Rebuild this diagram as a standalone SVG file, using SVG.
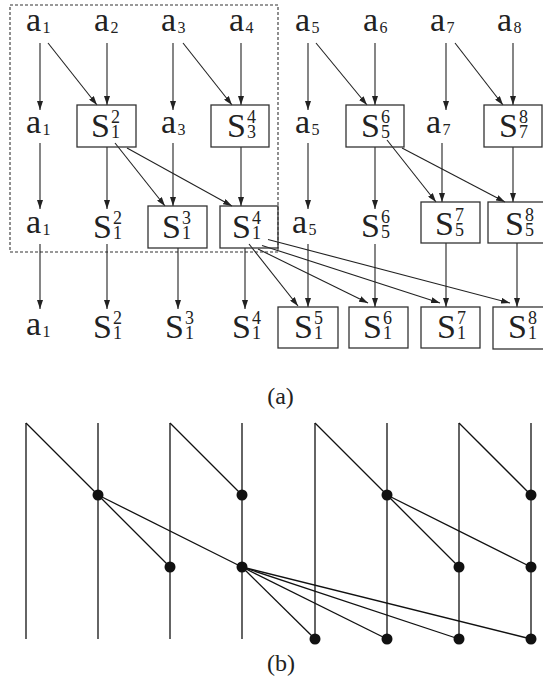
<svg xmlns="http://www.w3.org/2000/svg" width="543" height="679" viewBox="0 0 543 679">
<style>
text{font-family:'Liberation Serif','Times New Roman',Times,'Nimbus Roman',serif}
.m{font-size:34px;fill:#222}
.ds{font-size:16px}
.dS{font-size:18px}
.lb{font-size:24px;fill:#222;text-anchor:middle}
.ln{stroke:#222;stroke-width:1.1;fill:none}
.ar{marker-end:url(#ah)}
.box{fill:none;stroke:#333;stroke-width:1.3}
.dash{fill:none;stroke:#333;stroke-width:1.1;stroke-dasharray:3 2}
.bl{stroke:#111;stroke-width:1.3;fill:none}
.dot{fill:#111}
</style>
<defs>
<marker id="ah" markerUnits="userSpaceOnUse" markerWidth="9" markerHeight="6" refX="9" refY="3" orient="auto">
<path d="M0,0 L9,3 L0,6 z" fill="#222"/>
</marker>
</defs>
<rect class="dash" x="10" y="5" width="268" height="247"/>
<g id="connectors">
<line class="ln ar" x1="40" y1="43" x2="40" y2="110"/>
<line class="ln ar" x1="48" y1="43" x2="97" y2="105"/>
<line class="ln ar" x1="107" y1="43" x2="107" y2="105"/>
<line class="ln ar" x1="173" y1="43" x2="173" y2="110"/>
<line class="ln ar" x1="183" y1="43" x2="232" y2="105"/>
<line class="ln ar" x1="241" y1="43" x2="241" y2="105"/>
<line class="ln ar" x1="308" y1="43" x2="308" y2="110"/>
<line class="ln ar" x1="316" y1="43" x2="367" y2="105"/>
<line class="ln ar" x1="375" y1="43" x2="375" y2="105"/>
<line class="ln ar" x1="446" y1="43" x2="446" y2="110"/>
<line class="ln ar" x1="455" y1="43" x2="503" y2="105"/>
<line class="ln ar" x1="513" y1="43" x2="513" y2="105"/>
<line class="ln ar" x1="40" y1="143" x2="40" y2="209"/>
<line class="ln ar" x1="107" y1="147" x2="107" y2="209"/>
<line class="ln ar" x1="115" y1="143" x2="165" y2="206"/>
<line class="ln ar" x1="127" y1="148" x2="232" y2="206"/>
<line class="ln ar" x1="173" y1="143" x2="173" y2="206"/>
<line class="ln ar" x1="241" y1="147" x2="241" y2="206"/>
<line class="ln ar" x1="308" y1="143" x2="308" y2="209"/>
<line class="ln ar" x1="375" y1="147" x2="375" y2="209"/>
<line class="ln ar" x1="387" y1="140" x2="436" y2="202"/>
<line class="ln ar" x1="402" y1="148" x2="505" y2="202"/>
<line class="ln ar" x1="442" y1="143" x2="442" y2="202"/>
<line class="ln ar" x1="513" y1="147" x2="513" y2="202"/>
<line class="ln ar" x1="40" y1="244" x2="40" y2="309"/>
<line class="ln ar" x1="107" y1="244" x2="107" y2="309"/>
<line class="ln ar" x1="178" y1="248" x2="178" y2="309"/>
<line class="ln ar" x1="245" y1="248" x2="245" y2="309"/>
<line class="ln ar" x1="249" y1="244" x2="298" y2="306"/>
<line class="ln ar" x1="258" y1="249" x2="368" y2="303"/>
<line class="ln ar" x1="262" y1="245.4" x2="440" y2="303"/>
<line class="ln ar" x1="268" y1="239.5" x2="510" y2="303"/>
<line class="ln ar" x1="308" y1="244" x2="308" y2="307"/>
<line class="ln ar" x1="375" y1="244" x2="375" y2="307"/>
<line class="ln ar" x1="446" y1="243" x2="446" y2="307"/>
<line class="ln ar" x1="517" y1="243" x2="517" y2="307"/>
</g>
<g id="row1">
<g id="r1a1"><text class="m" x="26" y="31">a<tspan class="ds" dx="1.5" dy="2">1</tspan></text></g>
<g id="r1a2"><text class="m" x="94" y="31">a<tspan class="ds" dx="1.5" dy="2">2</tspan></text></g>
<g id="r1a3"><text class="m" x="161" y="31">a<tspan class="ds" dx="1.5" dy="2">3</tspan></text></g>
<g id="r1a4"><text class="m" x="229" y="31">a<tspan class="ds" dx="1.5" dy="2">4</tspan></text></g>
<g id="r1a5"><text class="m" x="295" y="31">a<tspan class="ds" dx="1.5" dy="2">5</tspan></text></g>
<g id="r1a6"><text class="m" x="363" y="31">a<tspan class="ds" dx="1.5" dy="2">6</tspan></text></g>
<g id="r1a7"><text class="m" x="430" y="31">a<tspan class="ds" dx="1.5" dy="2">7</tspan></text></g>
<g id="r1a8"><text class="m" x="497" y="31">a<tspan class="ds" dx="1.5" dy="2">8</tspan></text></g>
</g>
<g id="row2">
<g id="r2a1"><text class="m" x="26" y="133">a<tspan class="ds" dx="1.5" dy="2">1</tspan></text></g>
<g id="r2S12"><rect class="box" x="77" y="105" width="59" height="42"/><text class="m" x="91" y="136.5">S<tspan class="dS" dx="1" dy="-14">2</tspan><tspan class="dS" dx="-9" dy="15">1</tspan></text></g>
<g id="r2a3"><text class="m" x="161" y="133">a<tspan class="ds" dx="1.5" dy="2">3</tspan></text></g>
<g id="r2S34"><rect class="box" x="211" y="105" width="58" height="42"/><text class="m" x="227" y="136.5">S<tspan class="dS" dx="1" dy="-14">4</tspan><tspan class="dS" dx="-9" dy="15">3</tspan></text></g>
<g id="r2a5"><text class="m" x="295" y="133">a<tspan class="ds" dx="1.5" dy="2">5</tspan></text></g>
<g id="r2S56"><rect class="box" x="346" y="105" width="58" height="42"/><text class="m" x="361" y="136.5">S<tspan class="dS" dx="1" dy="-14">6</tspan><tspan class="dS" dx="-9" dy="15">5</tspan></text></g>
<g id="r2a7"><text class="m" x="426" y="133">a<tspan class="ds" dx="1.5" dy="2">7</tspan></text></g>
<g id="r2S78"><rect class="box" x="484" y="105" width="58" height="42"/><text class="m" x="499" y="136.5">S<tspan class="dS" dx="1" dy="-14">8</tspan><tspan class="dS" dx="-9" dy="15">7</tspan></text></g>
</g>
<g id="row3">
<g id="r3a1"><text class="m" x="26" y="233">a<tspan class="ds" dx="1.5" dy="2">1</tspan></text></g>
<g id="r3S12"><text class="m" x="93" y="237.5">S<tspan class="dS" dx="1" dy="-14">2</tspan><tspan class="dS" dx="-9" dy="15">1</tspan></text></g>
<g id="r3S13"><rect class="box" x="148" y="206" width="59" height="42"/><text class="m" x="162" y="237.5">S<tspan class="dS" dx="1" dy="-14">3</tspan><tspan class="dS" dx="-9" dy="15">1</tspan></text></g>
<g id="r3S14"><rect class="box" x="220" y="206" width="58" height="42"/><text class="m" x="232" y="237.5">S<tspan class="dS" dx="1" dy="-14">4</tspan><tspan class="dS" dx="-9" dy="15">1</tspan></text></g>
<g id="r3a5"><text class="m" x="292" y="233">a<tspan class="ds" dx="1.5" dy="2">5</tspan></text></g>
<g id="r3S56"><text class="m" x="361" y="237">S<tspan class="dS" dx="1" dy="-14">6</tspan><tspan class="dS" dx="-9" dy="15">5</tspan></text></g>
<g id="r3S57"><rect class="box" x="421" y="202" width="59" height="41"/><text class="m" x="435" y="234.5">S<tspan class="dS" dx="1" dy="-14">7</tspan><tspan class="dS" dx="-9" dy="15">5</tspan></text></g>
<g id="r3S58"><rect class="box" x="488" y="202" width="70" height="41"/><text class="m" x="505" y="234.5">S<tspan class="dS" dx="1" dy="-14">8</tspan><tspan class="dS" dx="-9" dy="15">5</tspan></text></g>
</g>
<g id="row4">
<g id="r4a1"><text class="m" x="26" y="335">a<tspan class="ds" dx="1.5" dy="2">1</tspan></text></g>
<g id="r4S12"><text class="m" x="93" y="337.5">S<tspan class="dS" dx="1" dy="-14">2</tspan><tspan class="dS" dx="-9" dy="15">1</tspan></text></g>
<g id="r4S13"><text class="m" x="165" y="337.5">S<tspan class="dS" dx="1" dy="-14">3</tspan><tspan class="dS" dx="-9" dy="15">1</tspan></text></g>
<g id="r4S14"><text class="m" x="232" y="337.5">S<tspan class="dS" dx="1" dy="-14">4</tspan><tspan class="dS" dx="-9" dy="15">1</tspan></text></g>
<g id="r4S15"><rect class="box" x="278" y="307" width="60" height="41"/><text class="m" x="294" y="337.5">S<tspan class="dS" dx="1" dy="-14">5</tspan><tspan class="dS" dx="-9" dy="15">1</tspan></text></g>
<g id="r4S16"><rect class="box" x="349" y="307" width="59" height="41"/><text class="m" x="363" y="337.5">S<tspan class="dS" dx="1" dy="-14">6</tspan><tspan class="dS" dx="-9" dy="15">1</tspan></text></g>
<g id="r4S17"><rect class="box" x="421" y="307" width="59" height="41"/><text class="m" x="437" y="337.5">S<tspan class="dS" dx="1" dy="-14">7</tspan><tspan class="dS" dx="-9" dy="15">1</tspan></text></g>
<g id="r4S18"><rect class="box" x="493" y="307" width="65" height="42"/><text class="m" x="508" y="337.5">S<tspan class="dS" dx="1" dy="-14">8</tspan><tspan class="dS" dx="-9" dy="15">1</tspan></text></g>
</g>
<text id="label-a" class="lb" x="280.5" y="404">(a)</text>
<g id="partb">
<g id="partb-lines">
<line class="bl" x1="26" y1="423" x2="26" y2="639"/>
<line class="bl" x1="98" y1="423" x2="98" y2="639"/>
<line class="bl" x1="170" y1="423" x2="170" y2="639"/>
<line class="bl" x1="242" y1="423" x2="242" y2="639"/>
<line class="bl" x1="315" y1="423" x2="315" y2="639"/>
<line class="bl" x1="387" y1="423" x2="387" y2="639"/>
<line class="bl" x1="459" y1="423" x2="459" y2="639"/>
<line class="bl" x1="531" y1="423" x2="531" y2="639"/>
<line class="bl" x1="26" y1="423" x2="98" y2="495"/>
<line class="bl" x1="170" y1="423" x2="242" y2="495"/>
<line class="bl" x1="315" y1="423" x2="387" y2="495"/>
<line class="bl" x1="459" y1="423" x2="531" y2="495"/>
<line class="bl" x1="98" y1="495" x2="170" y2="567"/>
<line class="bl" x1="98" y1="495" x2="242" y2="567"/>
<line class="bl" x1="387" y1="495" x2="459" y2="567"/>
<line class="bl" x1="387" y1="495" x2="531" y2="567"/>
<line class="bl" x1="242" y1="567" x2="315" y2="639"/>
<line class="bl" x1="242" y1="567" x2="387" y2="639"/>
<line class="bl" x1="242" y1="567" x2="459" y2="639"/>
<line class="bl" x1="242" y1="567" x2="531" y2="639"/>
</g>
<g id="partb-dots">
<circle class="dot" cx="98" cy="495" r="5.5"/>
<circle class="dot" cx="242" cy="495" r="5.5"/>
<circle class="dot" cx="387" cy="495" r="5.5"/>
<circle class="dot" cx="531" cy="495" r="5.5"/>
<circle class="dot" cx="170" cy="567" r="5.5"/>
<circle class="dot" cx="242" cy="567" r="5.5"/>
<circle class="dot" cx="459" cy="567" r="5.5"/>
<circle class="dot" cx="531" cy="567" r="5.5"/>
<circle class="dot" cx="315" cy="639" r="5.5"/>
<circle class="dot" cx="387" cy="639" r="5.5"/>
<circle class="dot" cx="459" cy="639" r="5.5"/>
<circle class="dot" cx="531" cy="639" r="5.5"/>
</g>
</g>
<text id="label-b" class="lb" x="281" y="671">(b)</text>
</svg>
